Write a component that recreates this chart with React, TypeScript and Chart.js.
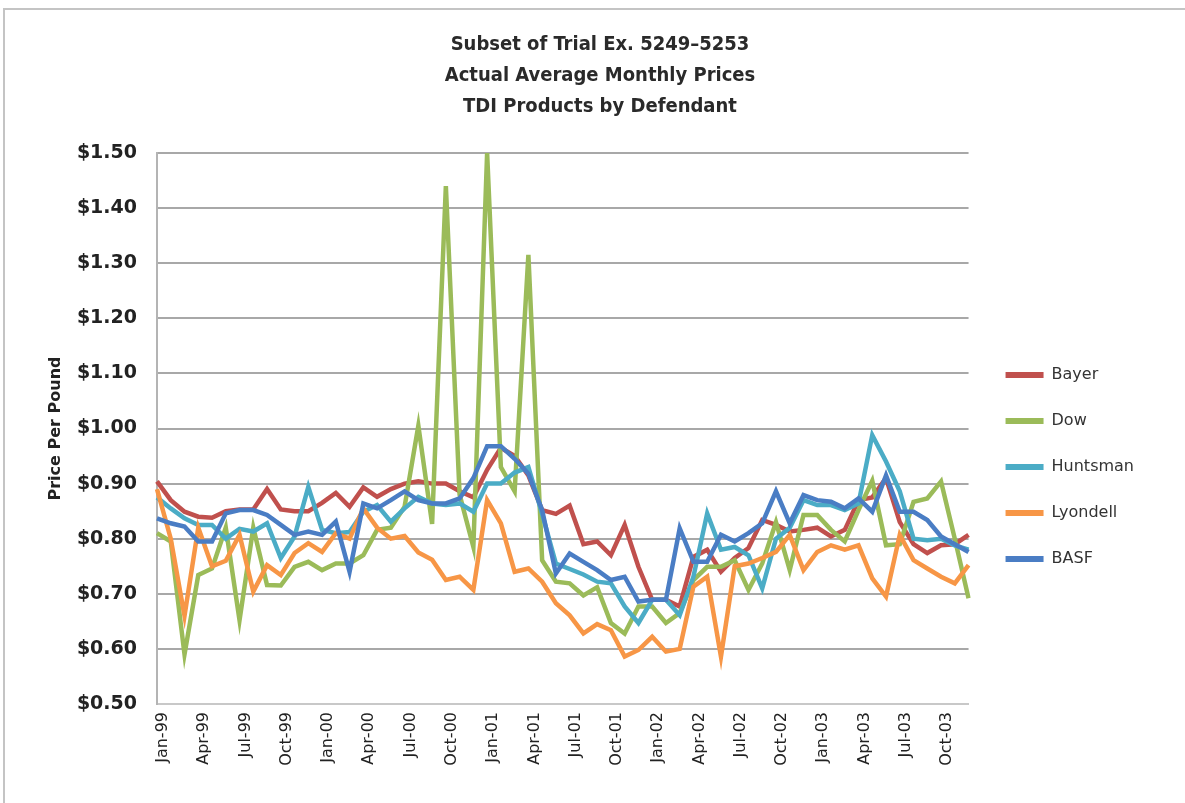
import { useEffect, useRef } from 'react';
import { Chart, registerables } from 'chart.js';

Chart.register(...registerables);

const MONTHS = ['Jan', 'Feb', 'Mar', 'Apr', 'May', 'Jun', 'Jul', 'Aug', 'Sep', 'Oct', 'Nov', 'Dec'];
const YEARS = ['99', '00', '01', '02', '03'];
const categories = YEARS.flatMap((y) => MONTHS.map((m) => `${m}-${y}`));

const TITLE_LINES = ['Subset of Trial Ex. 5249\u20135253', 'Actual Average Monthly Prices', 'TDI Products by Defendant'];
const Y_TITLE = 'Price Per Pound';
const SERIES_NAMES = ['Bayer', 'Dow', 'Huntsman', 'Lyondell', 'BASF'];
const SERIES_COLORS = ['#C0504D', '#9BBB59', '#4BACC6', '#F79646', '#4A7DC4'];

const bayer = [0.904, 0.870, 0.849, 0.840, 0.838, 0.850, 0.853, 0.853, 0.890, 0.853, 0.850, 0.850, 0.865, 0.883, 0.858, 0.893, 0.876, 0.890, 0.900, 0.904, 0.900, 0.900, 0.886, 0.875, 0.925, 0.965, 0.950, 0.915, 0.852, 0.845, 0.860, 0.790, 0.795, 0.770, 0.825, 0.749, 0.689, 0.689, 0.677, 0.767, 0.780, 0.740, 0.765, 0.783, 0.834, 0.825, 0.813, 0.816, 0.820, 0.804, 0.816, 0.870, 0.875, 0.910, 0.830, 0.790, 0.774, 0.788, 0.790, 0.807];
const dow = [0.810, 0.795, 0.590, 0.734, 0.746, 0.820, 0.652, 0.820, 0.716, 0.715, 0.749, 0.758, 0.743, 0.755, 0.755, 0.770, 0.816, 0.820, 0.858, 1.005, 0.827, 1.440, 0.880, 0.785, 1.500, 0.930, 0.886, 1.315, 0.761, 0.722, 0.719, 0.697, 0.712, 0.647, 0.628, 0.677, 0.677, 0.647, 0.665, 0.725, 0.749, 0.749, 0.761, 0.707, 0.755, 0.830, 0.743, 0.843, 0.843, 0.816, 0.795, 0.852, 0.905, 0.788, 0.790, 0.867, 0.873, 0.904, 0.800, 0.692];
const huntsman = [0.875, 0.855, 0.837, 0.825, 0.825, 0.800, 0.818, 0.813, 0.828, 0.765, 0.804, 0.894, 0.816, 0.810, 0.812, 0.849, 0.861, 0.831, 0.855, 0.876, 0.864, 0.861, 0.864, 0.849, 0.900, 0.900, 0.920, 0.930, 0.845, 0.755, 0.745, 0.735, 0.722, 0.719, 0.677, 0.647, 0.689, 0.689, 0.661, 0.731, 0.846, 0.780, 0.785, 0.770, 0.710, 0.800, 0.820, 0.870, 0.861, 0.861, 0.852, 0.864, 0.988, 0.940, 0.886, 0.800, 0.797, 0.800, 0.788, 0.780];
const lyondell = [0.890, 0.800, 0.660, 0.820, 0.750, 0.760, 0.807, 0.704, 0.752, 0.734, 0.774, 0.792, 0.776, 0.810, 0.800, 0.855, 0.820, 0.800, 0.805, 0.775, 0.762, 0.725, 0.731, 0.707, 0.870, 0.828, 0.740, 0.746, 0.722, 0.683, 0.661, 0.628, 0.645, 0.634, 0.586, 0.598, 0.622, 0.595, 0.600, 0.713, 0.731, 0.586, 0.750, 0.755, 0.765, 0.776, 0.807, 0.743, 0.776, 0.788, 0.780, 0.788, 0.728, 0.695, 0.807, 0.761, 0.746, 0.731, 0.719, 0.752];
const basf = [0.837, 0.828, 0.822, 0.795, 0.795, 0.846, 0.852, 0.852, 0.843, 0.825, 0.807, 0.813, 0.807, 0.831, 0.740, 0.864, 0.855, 0.870, 0.886, 0.870, 0.864, 0.864, 0.873, 0.910, 0.968, 0.968, 0.945, 0.918, 0.852, 0.737, 0.773, 0.758, 0.743, 0.725, 0.731, 0.686, 0.689, 0.689, 0.819, 0.758, 0.758, 0.807, 0.795, 0.810, 0.828, 0.886, 0.828, 0.879, 0.870, 0.867, 0.855, 0.873, 0.849, 0.915, 0.849, 0.849, 0.834, 0.804, 0.790, 0.776];

const SERIES_VALUES = [bayer, dow, huntsman, lyondell, basf];

const W = 1185;
const H = 803;
const PAD_LEFT = 56;

export default function App() {
  const ref = useRef<HTMLCanvasElement | null>(null);

  useEffect(() => {
    if (!ref.current) return;
    const defaultGen = Chart.defaults.plugins.legend.labels.generateLabels;
    const chart = new Chart(ref.current, {
      type: 'line',
      data: {
        labels: categories,
        datasets: SERIES_NAMES.map((name, i) => ({
          label: name,
          data: SERIES_VALUES[i],
          borderColor: SERIES_COLORS[i],
          backgroundColor: SERIES_COLORS[i],
          borderWidth: 4.5,
          pointRadius: 0,
          pointHoverRadius: 0,
          tension: 0,
          fill: false,
          order: SERIES_NAMES.length - i,
          yAxisID: 'y',
        })),
      },
      options: {
        responsive: false,
        animation: false,
        maintainAspectRatio: false,
        layout: { padding: { left: PAD_LEFT, right: 41, top: 0, bottom: 0 } },
        plugins: {
          tooltip: { enabled: false },
          title: {
            display: true,
            text: TITLE_LINES,
            color: '#2a2a2a',
            font: { family: '"DejaVu Sans Condensed", "Liberation Sans Narrow", sans-serif', size: 20, weight: 'bold', lineHeight: 1.55 },
            padding: { top: 29, bottom: 31 },
          },
          legend: {
            display: true,
            position: 'right',
            align: 'start',
            fullSize: false,
            title: { display: true, text: '', font: { size: 10, lineHeight: 1.2 }, padding: { top: 172, bottom: 0 } },
            labels: {
              boxWidth: 38,
              boxHeight: 6,
              padding: 30,
              color: '#333333',
              font: { family: '"DejaVu Sans", sans-serif', size: 16 },
              sort: (a: any, b: any) => a.datasetIndex - b.datasetIndex,
              generateLabels: (c: any) => defaultGen(c).map((l: any) => ({ ...l, lineWidth: 0 })),
            },
          },
        },
        scales: {
          x: {
            type: 'category',
            offset: false,
            grid: { display: false, drawTicks: false },
            border: { display: true, color: '#c8c8c8', width: 2 },
            ticks: {
              autoSkip: false,
              maxRotation: 90,
              minRotation: 90,
              padding: 8,
              labelOffset: 6,
              color: '#222222',
              font: { family: '"DejaVu Sans", sans-serif', size: 16 },
              callback: (_v: any, idx: number) => (idx % 3 === 0 ? categories[idx] : ''),
            },
            afterFit: (s: any) => { s.height = H - 704; },
          },
          y: {
            type: 'linear',
            position: 'left',
            min: 0.5,
            max: 1.5,
            grid: {
              drawTicks: false,
              color: (ctx: any) => (ctx.index === 0 ? 'rgba(0,0,0,0)' : '#a8a8a8'),
              lineWidth: 2,
            },
            border: { display: true, color: '#b4b4b4', width: 2 },
            ticks: {
              stepSize: 0.1,
              padding: 20,
              color: '#222222',
              font: { family: '"DejaVu Sans", sans-serif', size: 19, weight: 'bold' },
              callback: (v: any) => '$' + Number(v).toFixed(2),
            },
            title: {
              display: true,
              text: Y_TITLE,
              color: '#222222',
              font: { family: '"DejaVu Sans", sans-serif', size: 16, weight: 'bold', lineHeight: 1.2 },
              padding: { top: 46 - PAD_LEFT, bottom: 0 },
            },
            afterFit: (s: any) => { s.width = 157 - PAD_LEFT; },
          },
          spacer: {
            type: 'linear',
            position: 'right',
            display: true,
            grid: { display: false, drawTicks: false },
            border: { display: false },
            ticks: { display: false },
            afterFit: (s: any) => { s.width = 7; },
          },
        },
      } as any,
    });
    return () => chart.destroy();
  }, []);

  return (
    <div style={{ position: 'absolute', left: 0, top: 0, width: W, height: H, background: '#ffffff', overflow: 'hidden' }}>
      <canvas ref={ref} width={W} height={H} style={{ position: 'absolute', left: 0, top: 0, width: W, height: H }} />
      <div style={{ position: 'absolute', left: 3, top: 8, width: W, height: H, borderTop: '2px solid #c4c4c4', borderLeft: '2px solid #c4c4c4', pointerEvents: 'none' }} />
    </div>
  );
}
